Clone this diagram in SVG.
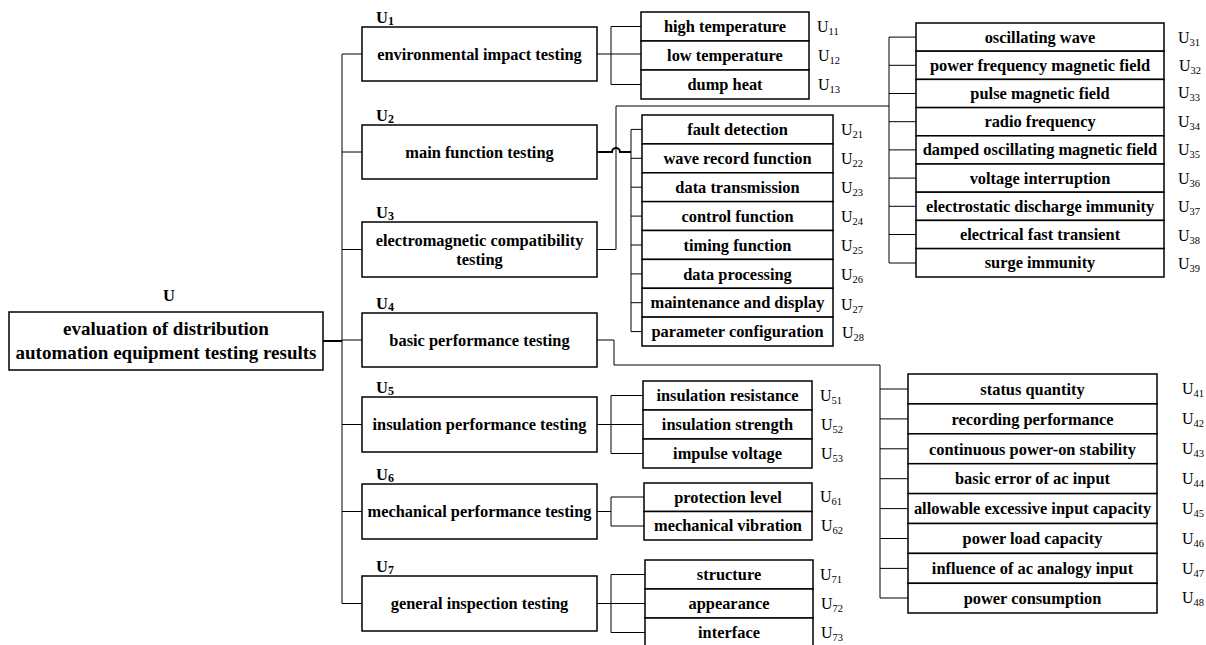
<svg xmlns="http://www.w3.org/2000/svg" width="1206" height="645" viewBox="0 0 1206 645">
<style>
.b{fill:#fff;stroke:#000;stroke-width:1.5}
.t{font-family:"Liberation Serif","Times New Roman",serif;font-weight:bold;font-size:16.4px;text-anchor:middle;fill:#000}
.lt{font-family:"Liberation Serif","Times New Roman",serif;font-weight:bold;font-size:16.4px;text-anchor:middle;fill:#000}
.rt{font-family:"Liberation Serif","Times New Roman",serif;font-weight:bold;font-size:19px;text-anchor:middle;fill:#000}
.h{font-family:"Liberation Serif","Times New Roman",serif;font-weight:bold;font-size:16.5px;fill:#000}
.hs{font-size:12px}
.s{font-family:"Liberation Serif","Times New Roman",serif;font-size:16px;fill:#000}
.ss{font-size:10.5px}
.c{fill:none;stroke:#000;stroke-width:1}
.ck{fill:none;stroke:#000;stroke-width:2}
</style>
<rect width="1206" height="645" fill="#fff"/>
<g id="connectors">
<line class="ck" x1="323" y1="341" x2="342" y2="341"/>
<path class="c" d="M342,54V603.5M342,54H362M342,152H362M342,249.5H362M342,340H362M342,424.5H362M342,511.5H362M342,603.5H362"/>
<path class="c" d="M597,54H641M611,26.5V84.5M611,26.5H641M611,84.5H641"/>
<path class="ck" d="M597,152H612a4,4 0 0 1 8,0H631"/>
<path class="c" d="M631,129.4V331.6M631,129.4H642M631,158.3H642M631,187.2H642M631,216.1H642M631,245H642M631,273.9H642M631,302.7H642M631,331.6H642"/>
<path class="c" d="M597,249.5H616V106H889M889,37.1V263M889,37.1H916M889,65.3H916M889,93.5H916M889,121.7H916M889,149.9H916M889,178.1H916M889,206.3H916M889,234.5H916M889,263H916"/>
<path class="c" d="M597,340H614V365H880V598M880,389H908M880,418.9H908M880,448.8H908M880,478.7H908M880,508.6H908M880,538.5H908M880,568.4H908M880,598H908"/>
<path class="c" d="M597,424.5H643M611,395.5V453.5M611,395.5H643M611,453.5H643"/>
<path class="c" d="M597,511.5H611M611,497V526M611,497H644M611,526H644"/>
<path class="c" d="M597,603.5H645M611,574.5V632.5M611,574.5H645M611,632.5H645"/>
</g>
<g id="root">
<text class="h" x="163" y="301">U</text>
<rect class="b" x="9" y="312" width="314" height="58"/>
<text class="rt" x="166" y="335">evaluation of distribution</text>
<text class="rt" x="166" y="359">automation equipment testing results</text>
</g>
<g id="U1">
<text class="h" x="376" y="23">U<tspan class="hs" dy="2">1</tspan></text>
<rect class="b" x="362" y="27" width="235" height="54"/>
<text class="t" x="479.5" y="59.5">environmental impact testing</text>
</g>
<g id="U2">
<text class="h" x="376" y="121">U<tspan class="hs" dy="2">2</tspan></text>
<rect class="b" x="362" y="125" width="235" height="54"/>
<text class="t" x="479.5" y="157.5">main function testing</text>
</g>
<g id="U3">
<text class="h" x="376" y="218">U<tspan class="hs" dy="2">3</tspan></text>
<rect class="b" x="362" y="222" width="235" height="55"/>
<text class="t" x="479.5" y="245.5">electromagnetic compatibility</text>
<text class="t" x="479.5" y="264.5">testing</text>
</g>
<g id="U4">
<text class="h" x="376" y="309">U<tspan class="hs" dy="2">4</tspan></text>
<rect class="b" x="362" y="313" width="235" height="54"/>
<text class="t" x="479.5" y="345.5">basic performance testing</text>
</g>
<g id="U5">
<text class="h" x="376" y="393">U<tspan class="hs" dy="2">5</tspan></text>
<rect class="b" x="362" y="397" width="235" height="55"/>
<text class="t" x="479.5" y="430">insulation performance testing</text>
</g>
<g id="U6">
<text class="h" x="376" y="480">U<tspan class="hs" dy="2">6</tspan></text>
<rect class="b" x="362" y="484" width="235" height="55"/>
<text class="t" x="479.5" y="517">mechanical performance testing</text>
</g>
<g id="U7">
<text class="h" x="376" y="572">U<tspan class="hs" dy="2">7</tspan></text>
<rect class="b" x="362" y="576" width="235" height="55"/>
<text class="t" x="479.5" y="609">general inspection testing</text>
</g>
<g id="U1-leaves">
<rect class="b" x="641" y="12" width="168" height="29"/><text class="lt" x="725" y="32">high temperature</text><text class="s" x="817" y="31.5">U<tspan class="ss" dy="3">11</tspan></text>
<rect class="b" x="641" y="41" width="168" height="29"/><text class="lt" x="725" y="61">low temperature</text><text class="s" x="818" y="60.5">U<tspan class="ss" dy="3">12</tspan></text>
<rect class="b" x="641" y="70" width="168" height="29"/><text class="lt" x="725" y="90">dump heat</text><text class="s" x="818" y="89.5">U<tspan class="ss" dy="3">13</tspan></text>
</g>
<g id="U2-leaves">
<rect class="b" x="642" y="115" width="191" height="28.9"/><text class="lt" x="737.5" y="135">fault detection</text><text class="s" x="841" y="134.5">U<tspan class="ss" dy="3">21</tspan></text>
<rect class="b" x="642" y="143.9" width="191" height="28.9"/><text class="lt" x="737.5" y="164">wave record function</text><text class="s" x="841" y="163.5">U<tspan class="ss" dy="3">22</tspan></text>
<rect class="b" x="642" y="172.8" width="191" height="28.9"/><text class="lt" x="737.5" y="193">data transmission</text><text class="s" x="841" y="192.5">U<tspan class="ss" dy="3">23</tspan></text>
<rect class="b" x="642" y="201.6" width="191" height="28.9"/><text class="lt" x="737.5" y="221.5">control function</text><text class="s" x="841" y="221.5">U<tspan class="ss" dy="3">24</tspan></text>
<rect class="b" x="642" y="230.5" width="191" height="28.9"/><text class="lt" x="737.5" y="250.5">timing function</text><text class="s" x="841" y="250.5">U<tspan class="ss" dy="3">25</tspan></text>
<rect class="b" x="642" y="259.4" width="191" height="28.9"/><text class="lt" x="737.5" y="279.5">data processing</text><text class="s" x="841" y="279.5">U<tspan class="ss" dy="3">26</tspan></text>
<rect class="b" x="642" y="288.3" width="191" height="28.9"/><text class="lt" x="737.5" y="308">maintenance and display</text><text class="s" x="841" y="310">U<tspan class="ss" dy="3">27</tspan></text>
<rect class="b" x="642" y="317.1" width="191" height="28.9"/><text class="lt" x="737.5" y="337">parameter configuration</text><text class="s" x="842" y="338">U<tspan class="ss" dy="3">28</tspan></text>
</g>
<g id="U3-leaves">
<rect class="b" x="916" y="23" width="248" height="28.2"/><text class="lt" x="1040" y="42.5">oscillating wave</text><text class="s" x="1178" y="43">U<tspan class="ss" dy="3">31</tspan></text>
<rect class="b" x="916" y="51.2" width="248" height="28.2"/><text class="lt" x="1040" y="70.5">power frequency magnetic field</text><text class="s" x="1179" y="71">U<tspan class="ss" dy="3">32</tspan></text>
<rect class="b" x="916" y="79.4" width="248" height="28.2"/><text class="lt" x="1040" y="98.5">pulse magnetic field</text><text class="s" x="1178" y="97.5">U<tspan class="ss" dy="3">33</tspan></text>
<rect class="b" x="916" y="107.6" width="248" height="28.2"/><text class="lt" x="1040" y="126.5">radio frequency</text><text class="s" x="1178" y="127">U<tspan class="ss" dy="3">34</tspan></text>
<rect class="b" x="916" y="135.8" width="248" height="28.2"/><text class="lt" x="1040" y="155">damped oscillating magnetic field</text><text class="s" x="1178" y="155">U<tspan class="ss" dy="3">35</tspan></text>
<rect class="b" x="916" y="164" width="248" height="28.2"/><text class="lt" x="1040" y="183.5">voltage interruption</text><text class="s" x="1178" y="183.5">U<tspan class="ss" dy="3">36</tspan></text>
<rect class="b" x="916" y="192.2" width="248" height="28.2"/><text class="lt" x="1040" y="211.5">electrostatic discharge immunity</text><text class="s" x="1178" y="212">U<tspan class="ss" dy="3">37</tspan></text>
<rect class="b" x="916" y="220.4" width="248" height="28.2"/><text class="lt" x="1040" y="239.5">electrical fast transient</text><text class="s" x="1178" y="240.5">U<tspan class="ss" dy="3">38</tspan></text>
<rect class="b" x="916" y="248.6" width="248" height="28.4"/><text class="lt" x="1040" y="268">surge immunity</text><text class="s" x="1178" y="269">U<tspan class="ss" dy="3">39</tspan></text>
</g>
<g id="U4-leaves">
<rect class="b" x="908" y="374" width="249" height="29.9"/><text class="lt" x="1032.5" y="394.5">status quantity</text><text class="s" x="1182" y="393.5">U<tspan class="ss" dy="3">41</tspan></text>
<rect class="b" x="908" y="403.9" width="249" height="29.9"/><text class="lt" x="1032.5" y="424.5">recording performance</text><text class="s" x="1182" y="423.5">U<tspan class="ss" dy="3">42</tspan></text>
<rect class="b" x="908" y="433.8" width="249" height="29.9"/><text class="lt" x="1032.5" y="454.5">continuous power-on stability</text><text class="s" x="1182" y="453.5">U<tspan class="ss" dy="3">43</tspan></text>
<rect class="b" x="908" y="463.7" width="249" height="29.9"/><text class="lt" x="1032.5" y="484">basic error of ac input</text><text class="s" x="1182" y="483.5">U<tspan class="ss" dy="3">44</tspan></text>
<rect class="b" x="908" y="493.6" width="249" height="29.9"/><text class="lt" x="1032.5" y="513.5">allowable excessive input capacity</text><text class="s" x="1182" y="513.5">U<tspan class="ss" dy="3">45</tspan></text>
<rect class="b" x="908" y="523.5" width="249" height="29.9"/><text class="lt" x="1032.5" y="543.5">power load capacity</text><text class="s" x="1182" y="543.5">U<tspan class="ss" dy="3">46</tspan></text>
<rect class="b" x="908" y="553.4" width="249" height="29.9"/><text class="lt" x="1032.5" y="573.5">influence of ac analogy input</text><text class="s" x="1182" y="573.5">U<tspan class="ss" dy="3">47</tspan></text>
<rect class="b" x="908" y="583.3" width="249" height="29.7"/><text class="lt" x="1032.5" y="603.5">power consumption</text><text class="s" x="1182" y="602.5">U<tspan class="ss" dy="3">48</tspan></text>
</g>
<g id="U5-leaves">
<rect class="b" x="643" y="381" width="169" height="29"/><text class="lt" x="727.5" y="401">insulation resistance</text><text class="s" x="820" y="400.5">U<tspan class="ss" dy="3">51</tspan></text>
<rect class="b" x="643" y="410" width="169" height="29"/><text class="lt" x="727.5" y="430">insulation strength</text><text class="s" x="821" y="429.5">U<tspan class="ss" dy="3">52</tspan></text>
<rect class="b" x="643" y="439" width="169" height="29"/><text class="lt" x="727.5" y="459">impulse voltage</text><text class="s" x="821" y="458.5">U<tspan class="ss" dy="3">53</tspan></text>
</g>
<g id="U6-leaves">
<rect class="b" x="644" y="483" width="168" height="28.5"/><text class="lt" x="728" y="502.5">protection level</text><text class="s" x="820" y="501.5">U<tspan class="ss" dy="3">61</tspan></text>
<rect class="b" x="644" y="511.5" width="168" height="28.5"/><text class="lt" x="728" y="531">mechanical vibration</text><text class="s" x="821" y="530.5">U<tspan class="ss" dy="3">62</tspan></text>
</g>
<g id="U7-leaves">
<rect class="b" x="645" y="560" width="168" height="29"/><text class="lt" x="729" y="580">structure</text><text class="s" x="820" y="579.5">U<tspan class="ss" dy="3">71</tspan></text>
<rect class="b" x="645" y="589" width="168" height="29"/><text class="lt" x="729" y="609">appearance</text><text class="s" x="821" y="608.5">U<tspan class="ss" dy="3">72</tspan></text>
<rect class="b" x="645" y="618" width="168" height="29"/><text class="lt" x="729" y="638">interface</text><text class="s" x="821" y="637.5">U<tspan class="ss" dy="3">73</tspan></text>
</g>
</svg>
